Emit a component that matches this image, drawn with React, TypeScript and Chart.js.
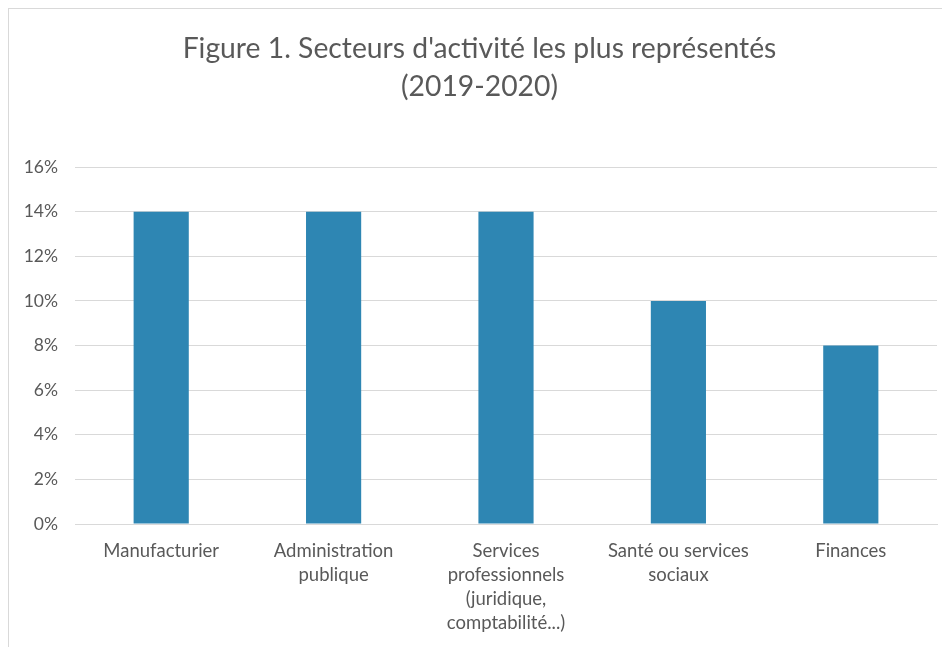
import React, { useEffect, useRef } from "react";
import { Chart, registerables } from "chart.js";

Chart.register(...registerables);

const categories: (string | string[])[] = [
  "Manufacturier",
  ["Administration", "publique"],
  ["Services", "professionnels", "(juridique,", "comptabilité...)"],
  ["Santé ou services", "sociaux"],
  "Finances",
];
const shares: number[] = [14, 14, 14, 10, 8];
const titleLines: string[] = [
  "Figure 1. Secteurs d'activité les plus représentés",
  "(2019-2020)",
];

export default function App() {
  const ref = useRef<HTMLCanvasElement | null>(null);
  useEffect(() => {
    if (!ref.current) return;
    const chart = new Chart(ref.current, {
      type: "bar",
      data: {
        labels: categories,
        datasets: [
          {
            data: shares,
            backgroundColor: "#2E86B3",
            borderWidth: 0,
            categoryPercentage: 1,
            barPercentage: 0.32,
            yAxisID: "y",
          },
        ],
      },
      options: {
        animation: false,
        responsive: false,
        layout: { padding: { left: 0, right: 0, top: 0, bottom: 0 } },
        plugins: {
          legend: { display: false },
          tooltip: { enabled: false },
          title: {
            display: true,
            text: titleLines,
            color: "#595959",
            font: { family: "Lato", size: 28.3, weight: "normal", lineHeight: "38px" },
            padding: { top: 21, bottom: 61 },
          },
        },
        scales: {
          x: {
            grid: { display: false, drawTicks: false },
            border: { display: true, color: "#d9d9d9" },
            ticks: {
              color: "#595959",
              font: { family: "Lato", size: 18.5, lineHeight: "24px" },
              padding: 15,
              maxRotation: 0,
              autoSkip: false,
            },
            afterFit: (s: any) => {
              s.height = 123;
            },
          },
          y: {
            min: 0,
            max: 16,
            grid: { color: "#d9d9d9", drawTicks: false },
            border: { display: false },
            ticks: {
              stepSize: 2,
              color: "#595959",
              font: { family: "Lato", size: 17.5 },
              padding: 17,
              callback: (v: any) => v + "%",
            },
            afterFit: (s: any) => {
              s.width = 66;
            },
          },
          yRight: {
            position: "right",
            display: true,
            grid: { display: false, drawTicks: false },
            border: { display: false },
            ticks: { display: false },
            afterFit: (s: any) => {
              s.width = 13;
            },
          },
        },
      },
    });
    return () => chart.destroy();
  }, []);
  return (
    <div
      style={{
        width: 942,
        height: 639,
        boxSizing: "border-box",
        borderTop: "1px solid #d9d9d9",
        borderLeft: "1px solid #d9d9d9",
      }}
    >
      <canvas ref={ref} width={941} height={638} style={{ display: "block" }} />
    </div>
  );
}
